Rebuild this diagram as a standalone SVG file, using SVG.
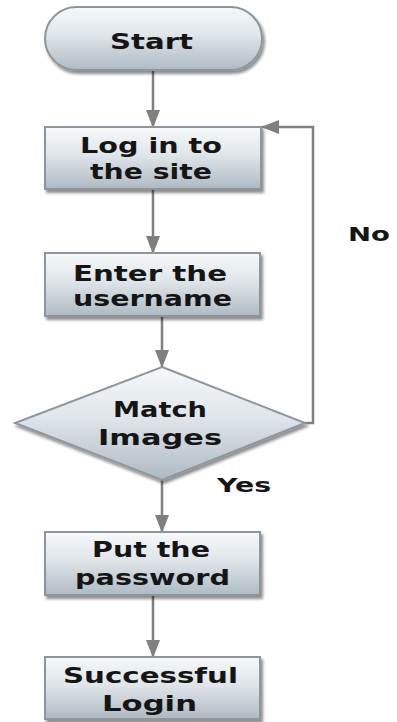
<svg xmlns="http://www.w3.org/2000/svg" width="397" height="722" viewBox="0 0 397 722">
  <defs>
    <linearGradient id="fillGrad" x1="0" y1="0" x2="0" y2="1">
      <stop offset="0" stop-color="#f7f9fa"/>
      <stop offset="0.45" stop-color="#dfe5e9"/>
      <stop offset="1" stop-color="#aebac3"/>
    </linearGradient>
    <filter id="shadow" x="-10%" y="-10%" width="130%" height="140%">
      <feGaussianBlur in="SourceAlpha" stdDeviation="1.5"/>
      <feOffset dx="2" dy="3" result="off"/>
      <feComponentTransfer><feFuncA type="linear" slope="0.45"/></feComponentTransfer>
      <feMerge><feMergeNode/><feMergeNode in="SourceGraphic"/></feMerge>
    </filter>
    <marker id="arrow" viewBox="0 0 18 14" refX="17" refY="7" markerWidth="18" markerHeight="14" markerUnits="userSpaceOnUse" orient="auto">
      <path d="M0,0 L18,7 L0,14 Z" fill="#7f7f7f"/>
    </marker>
  </defs>
  <style>
    .shape { fill: url(#fillGrad); stroke: #8e969c; stroke-width: 2; filter: url(#shadow); }
    .label { font-family: "DejaVu Sans", Verdana, sans-serif; font-weight: bold; font-size: 22px; fill: #151515; }
    .tag { font-family: "DejaVu Sans", Verdana, sans-serif; font-weight: bold; font-size: 20px; fill: #151515; }
    .edge { fill: none; stroke: #7f7f7f; stroke-width: 2.5; marker-end: url(#arrow); }
  </style>
  <rect width="397" height="722" fill="#ffffff"/>

  <g id="connectors">
    <path class="edge" d="M153,71 L153,127"/>
    <path class="edge" d="M153,190 L153,253"/>
    <path class="edge" d="M162,317 L162,367"/>
    <path class="edge" d="M162,480 L162,532"/>
    <path class="edge" d="M153,596 L153,657"/>
    <path class="edge" d="M305,423 L313,423 L313,127 L262,127"/>
    <text class="tag" x="217" y="492" textLength="54" lengthAdjust="spacingAndGlyphs">Yes</text>
    <text class="tag" x="348" y="241" textLength="42" lengthAdjust="spacingAndGlyphs">No</text>
  </g>

  <g id="start">
    <rect class="shape" x="45" y="7" width="217" height="63" rx="31.5" ry="31.5"/>
    <text class="label" x="110" y="49" textLength="83" lengthAdjust="spacingAndGlyphs">Start</text>
  </g>

  <g id="login-site">
    <rect class="shape" x="45" y="127" width="216" height="62"/>
    <text class="label" x="80" y="153" textLength="142" lengthAdjust="spacingAndGlyphs">Log in to</text>
    <text class="label" x="90" y="179" textLength="122" lengthAdjust="spacingAndGlyphs">the site</text>
  </g>

  <g id="enter-username">
    <rect class="shape" x="45" y="253" width="215" height="63"/>
    <text class="label" x="73" y="281" textLength="154" lengthAdjust="spacingAndGlyphs">Enter the</text>
    <text class="label" x="73" y="306" textLength="159" lengthAdjust="spacingAndGlyphs">username</text>
  </g>

  <g id="match-images">
    <polygon class="shape" points="162,367 305,423 162,480 15,423"/>
    <text class="label" x="113" y="417" textLength="94" lengthAdjust="spacingAndGlyphs">Match</text>
    <text class="label" x="98" y="445" textLength="124" lengthAdjust="spacingAndGlyphs">Images</text>
  </g>

  <g id="put-password">
    <rect class="shape" x="45" y="532" width="215" height="63"/>
    <text class="label" x="92" y="557" textLength="118" lengthAdjust="spacingAndGlyphs">Put the</text>
    <text class="label" x="75" y="585" textLength="155" lengthAdjust="spacingAndGlyphs">password</text>
  </g>

  <g id="successful-login">
    <rect class="shape" x="45" y="657" width="215" height="62"/>
    <text class="label" x="63" y="683" textLength="175" lengthAdjust="spacingAndGlyphs">Successful</text>
    <text class="label" x="102" y="711" textLength="95" lengthAdjust="spacingAndGlyphs">Login</text>
  </g>
</svg>
